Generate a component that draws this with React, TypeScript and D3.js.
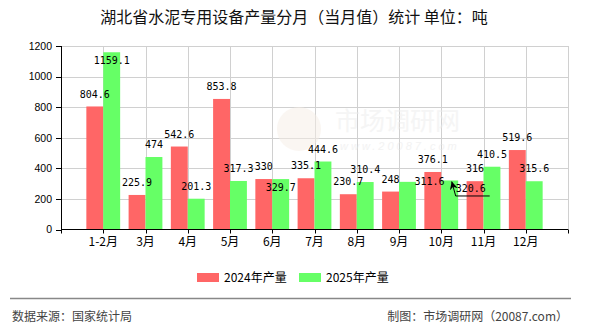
import { useMemo } from 'react';
import * as d3 from 'd3';

const months = ['1-2月', '3月', '4月', '5月', '6月', '7月', '8月', '9月', '10月', '11月', '12月'];
const output2024 = [804.6, 225.9, 542.6, 853.8, 330, 335.1, 230.7, 248, 376.1, 316, 519.6];
const output2025 = [1159.1, 474, 201.3, 317.3, 329.7, 444.6, 310.4, 311.6, 320.6, 410.5, 315.6];
const yTicks = [0, 200, 400, 600, 800, 1000, 1200];
const seriesNames = ['2024年产量', '2025年产量'];

const W = 590;
const H = 330;
const plot = { left: 61, right: 568, top: 46, bottom: 229.5 };
const colors = ['#ff6666', '#66ff66'];
const labelFont = '"DejaVu Sans Mono", monospace';
const cjkFont = '"Noto Sans CJK SC", "Noto Sans", sans-serif';

type Box = { x0: number; x1: number; y0: number; y1: number };
type Label = { text: string; cx: number; cy: number; w: number; leader?: { tx: number; ty: number } };

const overlaps = (a: Box, b: Box) => a.x0 < b.x1 && b.x0 < a.x1 && a.y0 < b.y1 && b.y0 < a.y1;

const App = () => {
    // padded domain so the months sit on the inner tick positions
    const x = useMemo(
        () => d3.scalePoint<string>().domain(['_l', ...months, '_r']).range([plot.left, plot.right]),
        []
    );
    const y = useMemo(() => d3.scaleLinear().domain([0, 1200]).range([plot.bottom, plot.top]), []);
    const barW = x.step() * 0.4;

    const series = [output2024, output2025];

    // value labels: above the bar, else inside, else nudged right (last resort gets a leader)
    const labels = useMemo(() => {
        const placed: Box[] = [];
        const out: Label[] = [];
        series.forEach((vals, s) => {
            vals.forEach((v, i) => {
                const text = String(v);
                const w = text.length * 6;
                const bx = (x(months[i]) ?? 0) + (s === 0 ? -barW / 2 : barW / 2);
                const top = y(v);
                const cands: Label[] = [
                    { text, w, cx: bx, cy: top - 12.5 },
                    { text, w, cx: bx, cy: top + 8.5 },
                    { text, w, cx: bx + 22, cy: top - 0.5 },
                    { text, w, cx: bx + 21, cy: top + 7.5, leader: { tx: bx + 2, ty: top + 1 } },
                ];
                const boxOf = (c: Label): Box => ({ x0: c.cx - w / 2, x1: c.cx + w / 2, y0: c.cy - 6, y1: c.cy + 6 });
                let pick = cands[cands.length - 1];
                for (const c of cands) {
                    const b = boxOf(c);
                    if (b.y0 < plot.top) continue;
                    if (placed.some(p => overlaps(p, b))) continue;
                    pick = c;
                    break;
                }
                placed.push(boxOf(pick));
                out.push(pick);
            });
        });
        return out;
    }, [x, y]);

    const gridX = x.domain().map(d => x(d) ?? 0);

    return (
        <svg
            width={W}
            height={H}
            style={{ position: 'absolute', left: 0, top: 0, background: '#fff' }}
        >
            <defs>
                <marker id="arrow" viewBox="0 0 10 10" refX="0" refY="5" markerWidth="8" markerHeight="8" orient="auto" markerUnits="userSpaceOnUse">
                    <path d="M0,5 L10,0 L7,5 L10,10 Z" fill="#000" />
                </marker>
            </defs>

            <text x={294} y={23} textAnchor="middle" fontFamily={cjkFont} fontSize={16} fill="#111">
                湖北省水泥专用设备产量分月（当月值）统计 单位：吨
            </text>

            {/* grid */}
            <g stroke="#d0d0d0" strokeWidth={1}>
                {yTicks.filter(t => t > 0).map(t => (
                    <line key={t} x1={plot.left} x2={plot.right} y1={Math.round(y(t)) + 0.5} y2={Math.round(y(t)) + 0.5} />
                ))}
                {gridX.slice(1).map((gx, i) => (
                    <line key={i} x1={Math.round(gx) + 0.5} x2={Math.round(gx) + 0.5} y1={plot.top} y2={plot.bottom} />
                ))}
            </g>

            {/* watermark */}
            <g opacity={0.5}>
                <circle cx={299} cy={129} r={22} fill="#f7efe6" />
                <text x={335} y={130} fontFamily={cjkFont} fontSize={25} fill="#ececec">市场调研网</text>
                <text x={340} y={150} fontFamily="Liberation Sans, sans-serif" fontStyle="italic" fontSize={11} letterSpacing={3} fill="#e8e8e8">
                    www.20087.com
                </text>
            </g>

            {/* bars */}
            {series.map((vals, s) => (
                <g key={s} fill={colors[s]}>
                    {vals.map((v, i) => (
                        <rect
                            key={i}
                            x={(x(months[i]) ?? 0) - (s === 0 ? barW : 0)}
                            y={y(v)}
                            width={barW}
                            height={y(0) - y(v)}
                        />
                    ))}
                </g>
            ))}

            {/* axes */}
            <g stroke="#000" strokeWidth={1}>
                <line x1={plot.left + 0.5} x2={plot.left + 0.5} y1={plot.top} y2={plot.bottom} />
                <line x1={plot.left} x2={plot.right} y1={plot.bottom} y2={plot.bottom} />
                {yTicks.map(t => (
                    <line key={t} x1={plot.left - 5} x2={plot.left} y1={Math.round(y(t)) + 0.5} y2={Math.round(y(t)) + 0.5} />
                ))}
                {gridX.map((gx, i) => (
                    <line key={i} x1={Math.round(gx) + 0.5} x2={Math.round(gx) + 0.5} y1={plot.bottom} y2={plot.bottom + 4} />
                ))}
            </g>
            <g fontFamily="Liberation Sans, sans-serif" fontSize={10.5} fill="#000" textAnchor="end">
                {yTicks.map(t => (
                    <text key={t} x={52} y={y(t) + 3.8}>{t}</text>
                ))}
            </g>
            <g fontFamily={cjkFont} fontSize={12} fill="#000" textAnchor="middle">
                {months.map(m => (
                    <text key={m} x={x(m)} y={246}>{m}</text>
                ))}
            </g>

            {/* value labels */}
            <g fontFamily={labelFont} fontSize={10} fill="#000" textAnchor="middle">
                {labels.map((l, i) => (
                    <text key={i} x={l.cx} y={l.cy + 3.7}>{l.text}</text>
                ))}
            </g>
            {labels.filter(l => l.leader).map((l, i) => (
                <polyline
                    key={i}
                    points={`${l.leader!.tx},${l.leader!.ty} ${l.cx - l.w / 2},${l.cy + 8} ${l.cx + l.w / 2 + 4},${l.cy + 8}`}
                    fill="none"
                    stroke="#000"
                    strokeWidth={1}
                    markerStart="url(#arrow)"
                />
            ))}

            {/* legend */}
            <g fontFamily={cjkFont} fontSize={12} fill="#000">
                {seriesNames.map((name, s) => (
                    <g key={name} transform={`translate(${197 + s * 102},0)`}>
                        <rect x={0} y={273} width={22} height={9} fill={colors[s]} />
                        <text x={27} y={282}>{name}</text>
                    </g>
                ))}
            </g>

            <line x1={10} x2={571} y1={298.5} y2={298.5} stroke="#888" strokeWidth={1.3} />
            <g fontFamily={cjkFont} fontSize={12} fill="#444">
                <text x={12} y={321}>数据来源：国家统计局</text>
                <text x={568} y={321} textAnchor="end">制图：市场调研网（20087.com）</text>
            </g>
        </svg>
    );
};

export default App;
